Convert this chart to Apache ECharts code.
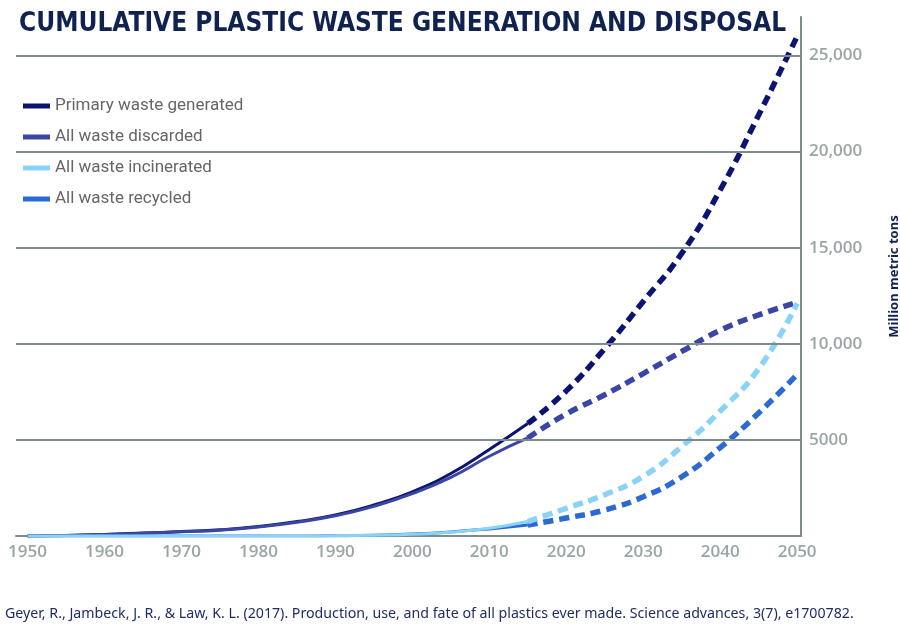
<!DOCTYPE html>
<html>
<head>
<meta charset="utf-8">
<script src="https://cdn.jsdelivr.net/npm/echarts@6/dist/echarts.min.js"></script>
<style>
  html, body { margin: 0; padding: 0; background: #fff; }
  #main { width: 900px; height: 643px; }
</style>
</head>
<body>
<div id="main"></div>
<script>
// recorded years (solid) and projection years (dashed)
var histYears = [1950, 1955, 1960, 1965, 1970, 1975, 1980, 1985, 1990, 1995, 2000, 2005, 2010, 2015];
var projYears = [2015, 2020, 2025, 2030, 2035, 2040, 2045, 2050];

// million metric tons, cumulative
var primaryHist     = [0, 30, 80, 150, 230, 320, 490, 750, 1090, 1610, 2300, 3250, 4500, 5850];
var discardedHist   = [0, 30, 80, 145, 220, 305, 470, 720, 1050, 1540, 2200, 3050, 4150, 5100];
var incineratedHist = [0, 0, 0, 0, 0, 0, 0, 0, 10, 40, 90, 200, 400, 750];
var recycledHist    = [0, 0, 0, 0, 0, 0, 0, 0, 10, 40, 100, 210, 370, 570];

var primaryProj     = [5850, 7550, 9750, 12200, 14700, 18000, 21900, 26000];
var discardedProj   = [5100, 6350, 7350, 8450, 9600, 10700, 11500, 12150];
var incineratedProj = [750, 1440, 2150, 3100, 4650, 6500, 8700, 12100];
var recycledProj    = [570, 935, 1350, 2040, 3080, 4600, 6400, 8400];

var xTicks = [1950, 1960, 1970, 1980, 1990, 2000, 2010, 2020, 2030, 2040, 2050];
var yTicks = [5000, 10000, 15000, 20000, 25000];

var names = ['Primary waste generated', 'All waste discarded', 'All waste incinerated', 'All waste recycled'];
var colors = ['#0b1470', '#3a46a6', '#88d3f7', '#2c6ad3'];
var hist = [primaryHist, discardedHist, incineratedHist, recycledHist];
var proj = [primaryProj, discardedProj, incineratedProj, recycledProj];

function pairs(xs, ys) {
  return xs.map(function (x, i) { return [x, ys[i]]; });
}

var series = [{
  type: 'line',
  z: 1,
  data: [[1950, 0]],
  showSymbol: false,
  lineStyle: { opacity: 0 },
  silent: true,
  markLine: {
    silent: true,
    symbol: 'none',
    label: { show: false },
    lineStyle: { color: '#7d8b8b', width: 2, type: 'solid' },
    data: yTicks.map(function (v) { return { yAxis: v }; })
  }
}];

// draw order: primary, discarded, recycled, incinerated
[0, 1, 3, 2].forEach(function (k) {
  series.push({
    name: names[k], type: 'line', z: 3, smooth: 0.5, showSymbol: false,
    color: colors[k],
    lineStyle: { width: 3, color: colors[k] },
    data: pairs(histYears, hist[k])
  });
  series.push({
    name: names[k], type: 'line', z: 3, smooth: 0.5, showSymbol: false,
    color: colors[k],
    lineStyle: { width: 5.5, color: colors[k], type: [10, 6] },
    data: pairs(projYears, proj[k])
  });
});

var option = {
  animation: false,
  backgroundColor: '#fff',
  title: [{
    text: 'CUMULATIVE PLASTIC WASTE GENERATION AND DISPOSAL',
    left: 14, top: 6,
    textStyle: { fontFamily: "'DejaVu Sans Condensed', Roboto", fontWeight: 'bold', fontSize: 26, color: '#10224f' }
  }, {
    text: 'Geyer, R., Jambeck, J. R., & Law, K. L. (2017). Production, use, and fate of all plastics ever made. Science advances, 3(7), e1700782.',
    left: 0, top: 602,
    textStyle: { fontFamily: 'Noto Sans', fontWeight: 'normal', fontSize: 14.2, color: '#1f2d66' }
  }],
  legend: {
    orient: 'vertical',
    left: 18, top: 92,
    icon: 'rect',
    itemWidth: 27, itemHeight: 5,
    itemGap: 13,
    data: names,
    textStyle: { fontFamily: 'Roboto', fontSize: 17, lineHeight: 18, color: '#666' }
  },
  grid: { left: 16, right: 99, top: 17, bottom: 107, outerBoundsMode: 'none', containLabel: false },
  xAxis: {
    type: 'value',
    min: 1948.5, max: 2050.5,
    axisLine: { lineStyle: { color: '#7d8b8b', width: 2 } },
    axisTick: { show: false },
    splitLine: { show: false },
    axisLabel: {
      customValues: xTicks,
      margin: 8,
      color: '#9aa6a6', fontFamily: 'Open Sans', fontWeight: 600, fontSize: 17,
      formatter: function (v) { return String(v); }
    }
  },
  yAxis: {
    type: 'value',
    position: 'right',
    min: 0, max: 27000,
    name: 'Million metric tons',
    nameLocation: 'middle',
    nameGap: 87,
    nameTextStyle: { fontFamily: 'Noto Sans', fontWeight: 'bold', fontSize: 13, color: '#10224f' },
    axisLine: { show: true, lineStyle: { color: '#7d8b8b', width: 2 } },
    axisTick: { show: false },
    splitLine: { show: false },
    axisLabel: {
      customValues: yTicks,
      margin: 8,
      color: '#9aa6a6', fontFamily: 'Open Sans', fontWeight: 600, fontSize: 17,
      formatter: function (v) { return v >= 10000 ? v.toLocaleString('en-US') : String(v); }
    }
  },
  series: series
};

var myChart = echarts.init(document.getElementById('main'));
myChart.setOption(option);
</script>
</body>
</html>
